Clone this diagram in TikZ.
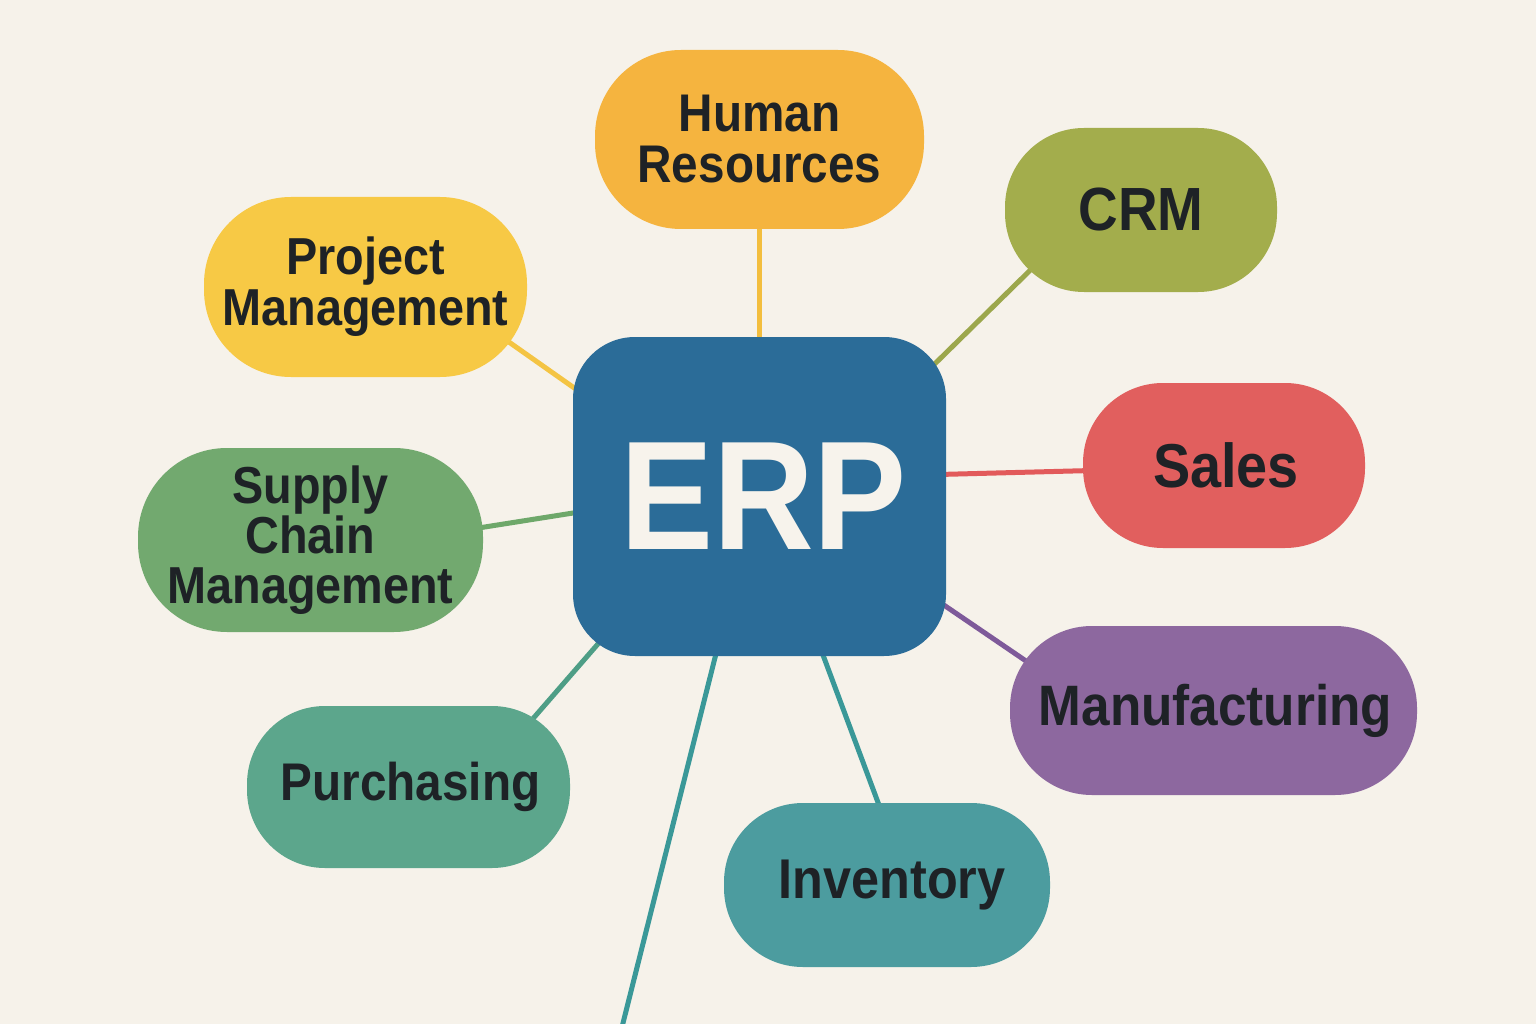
\documentclass[tikz,border=0pt]{standalone}
\usepackage{fontspec}
\setmainfont{Liberation Sans}[FakeStretch=0.9]
\usetikzlibrary{calc}
\pgfdeclarelayer{bg}
\pgfsetlayers{bg,main}
\definecolor{bgc}{HTML}{F6F2EA}
\definecolor{erpc}{HTML}{2B6C98}
\definecolor{hrc}{HTML}{F5B43F}
\definecolor{crmc}{HTML}{A3AD4C}
\definecolor{pmc}{HTML}{F7C945}
\definecolor{salesc}{HTML}{E15F5E}
\definecolor{scmc}{HTML}{72A96F}
\definecolor{manc}{HTML}{8D689F}
\definecolor{purc}{HTML}{5CA68C}
\definecolor{invc}{HTML}{4C9C9F}
\definecolor{txtc}{HTML}{1E2226}
\definecolor{erptxt}{HTML}{F7F3EC}
\definecolor{hrl}{HTML}{F3BE3E}
\definecolor{crml}{HTML}{9CA74C}
\definecolor{pml}{HTML}{F4C443}
\definecolor{salesl}{HTML}{E25A5B}
\definecolor{scml}{HTML}{6EA86A}
\definecolor{manl}{HTML}{7E5A9A}
\definecolor{purl}{HTML}{4E9E86}
\definecolor{invl}{HTML}{3A9898}
\begin{document}
\begin{tikzpicture}[x=1pt,y=-1pt,
  pill/.style={rectangle, inner sep=0pt, align=center, text=txtc, font=\bfseries},
  conn/.style={line width=5pt}]
\begin{pgfonlayer}{bg}
\fill[bgc] (0,0) rectangle (1536,1024);
\end{pgfonlayer}
\useasboundingbox (0,0) rectangle (1536,1024);

\node[rectangle, fill=erpc, rounded corners=62pt, minimum width=373pt, minimum height=319pt, inner sep=0pt,
      text=erptxt, font=\fontsize{155}{155}\selectfont\bfseries] (erp) at (759.5,496.5) {\hspace*{8pt}ERP};

\node[pill, fill=hrc, rounded corners=86pt, minimum width=329pt, minimum height=179pt,
      font=\fontsize{53}{51}\selectfont\bfseries] (hr) at (759.5,139.5) {Human\\Resources};
\node[pill, fill=crmc, rounded corners=79pt, minimum width=272pt, minimum height=164pt,
      font=\fontsize{61}{61}\selectfont\bfseries] (crm) at (1141,210) {CRM};
\node[pill, fill=pmc, rounded corners=87pt, minimum width=323pt, minimum height=180pt,
      font=\fontsize{52}{51}\selectfont\bfseries] (pm) at (365.5,287) {Project\\Management};
\node[pill, fill=salesc, rounded corners=80pt, minimum width=282pt, minimum height=165pt,
      font=\fontsize{62}{62}\selectfont\bfseries] (sales) at (1224,465.5) {\hspace*{4pt}Sales};
\node[pill, fill=scmc, rounded corners=89pt, minimum width=345pt, minimum height=184pt,
      font=\fontsize{52}{50}\selectfont\bfseries] (scm) at (310.5,540) {Supply\\Chain\\Management};
\node[pill, fill=manc, rounded corners=82pt, minimum width=407pt, minimum height=169pt,
      font=\fontsize{57}{57}\selectfont\bfseries] (man) at (1213.5,710.5) {\hspace*{4pt}Manufacturing};
\node[pill, fill=purc, rounded corners=78pt, minimum width=323pt, minimum height=162pt,
      font=\fontsize{53}{53}\selectfont\bfseries] (pur) at (408.5,787) {\hspace*{4pt}Purchasing};
\node[pill, fill=invc, rounded corners=79pt, minimum width=326pt, minimum height=164pt,
      font=\fontsize{56}{56}\selectfont\bfseries] (inv) at (887,885) {\hspace*{10pt}Inventory};

\coordinate (offpage) at (620,1035);

\begin{pgfonlayer}{bg}
\draw[conn, hrl] (hr) -- (erp);
\draw[conn, crml] ($(crm)+(-81,31)$) -- ($(erp)+(141,-99)$);
\draw[conn, pml] ($(pm)+(105,28)$) -- ($(erp)+(-149,-83)$);
\draw[conn, salesl] ($(sales)+(-94,4)$) -- ($(erp)+(141,-21)$);
\draw[conn, scml] ($(scm)+(130,-6)$) -- ($(erp)+(-139,9)$);
\draw[conn, manl] ($(man)+(-153,-26)$) -- ($(erp)+(141,79)$);
\draw[conn, purl] ($(pur)+(92,-31)$) -- ($(erp)+(-129,110)$);
\draw[conn, invl] ($(inv)+(8,-37)$) -- ($(erp)+(51,125)$);
\draw[conn, invl] ($(erp)+(-14,40)$) -- (offpage);
\end{pgfonlayer}
\end{tikzpicture}
\end{document}
